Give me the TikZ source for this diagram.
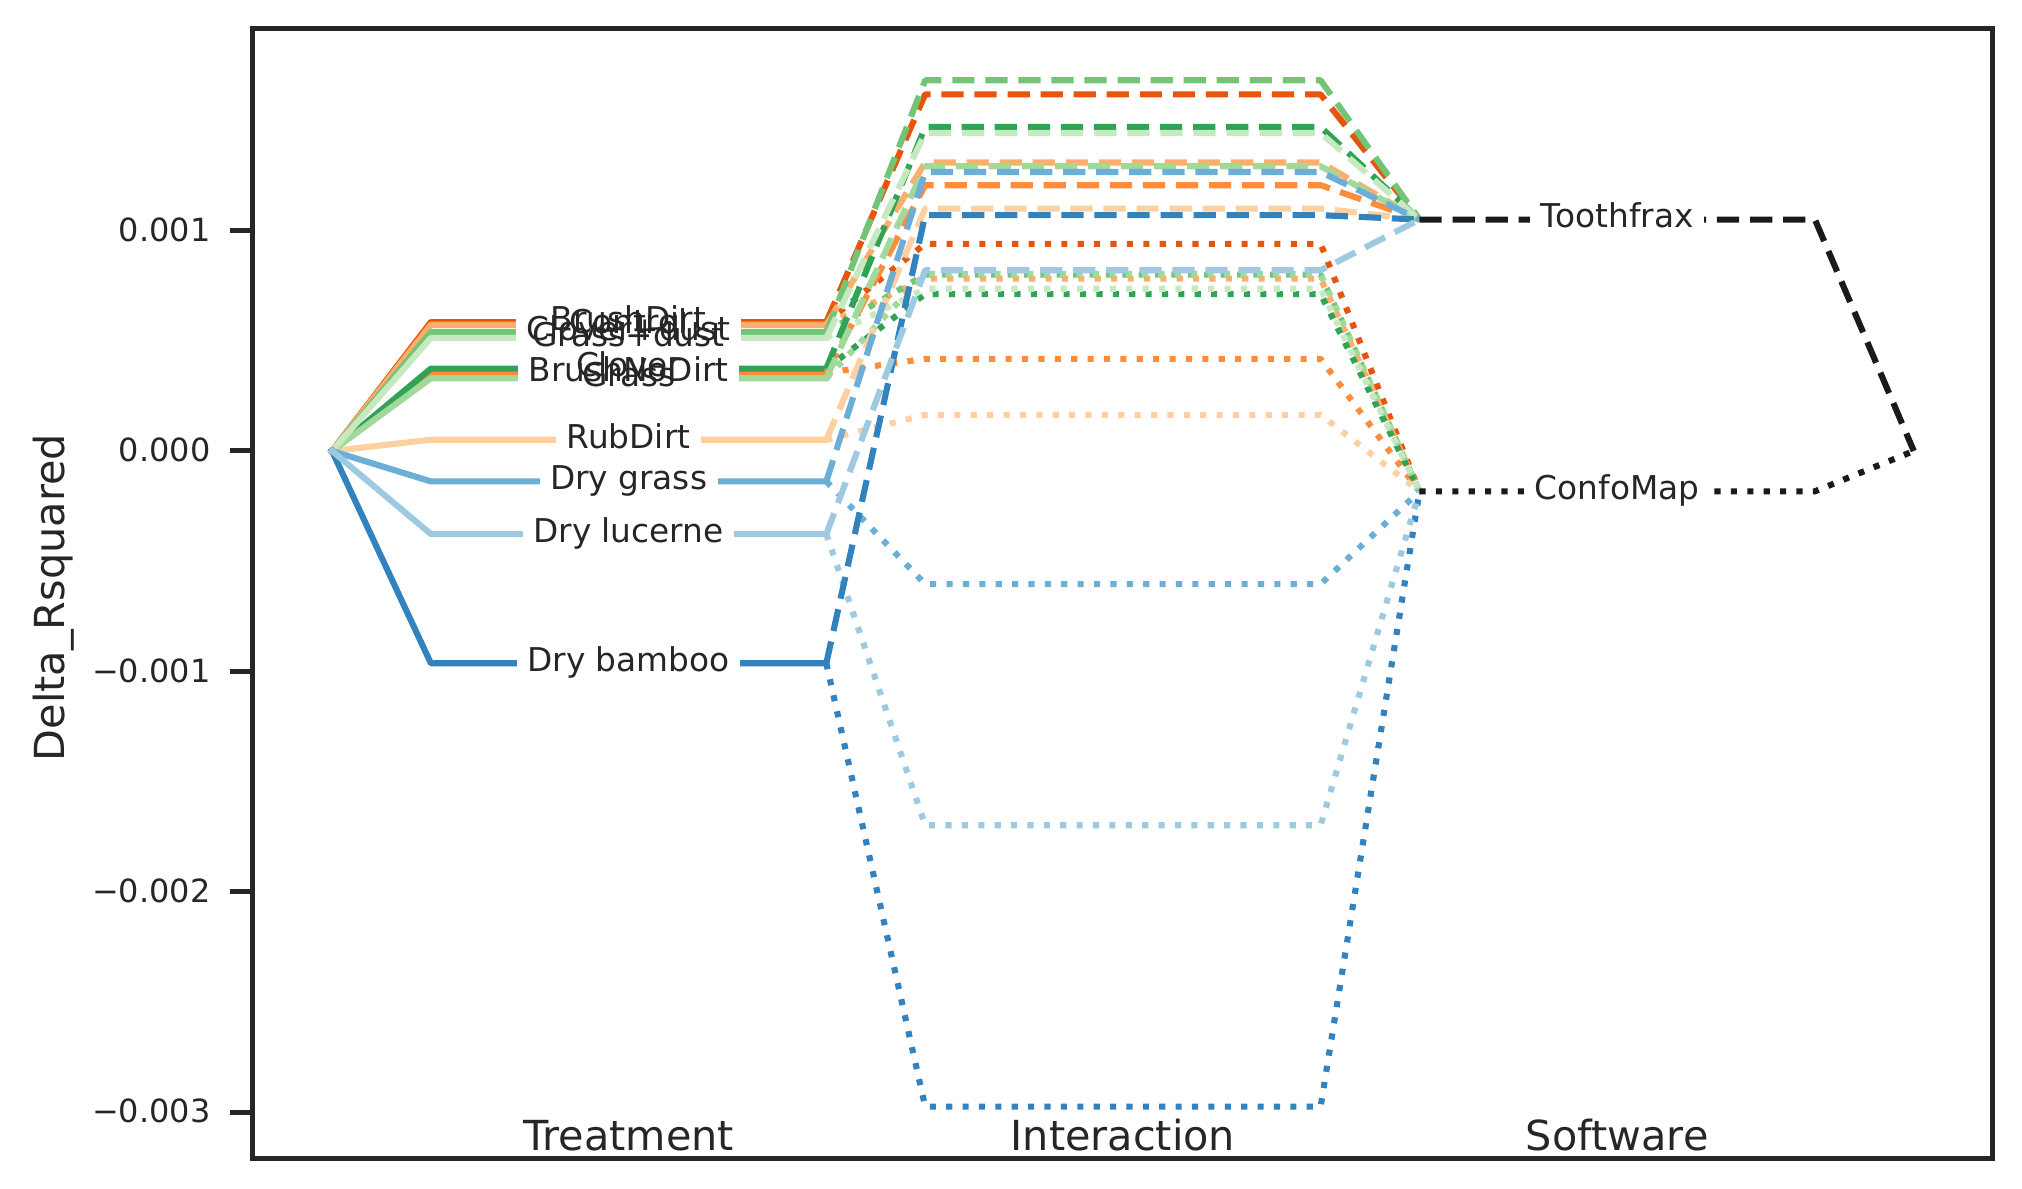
\documentclass[tikz,border=0pt]{standalone}
\usepackage{fontspec}
\setmainfont{DejaVu Sans}
\definecolor{tc}{HTML}{262626}
\definecolor{bA}{HTML}{3182BD}
\definecolor{bB}{HTML}{6BAED6}
\definecolor{bC}{HTML}{9ECAE1}
\definecolor{oA}{HTML}{E6550D}
\definecolor{oB}{HTML}{FD8D3C}
\definecolor{oC}{HTML}{FDAE6B}
\definecolor{oD}{HTML}{FDD0A2}
\definecolor{gA}{HTML}{31A354}
\definecolor{gB}{HTML}{74C476}
\definecolor{gC}{HTML}{A1D99B}
\definecolor{gD}{HTML}{C7E9C0}
\definecolor{kk}{HTML}{1A1A1A}
\tikzset{
  plotline/.style={line width=2.2pt, line join=round},
  solidline/.style={plotline, line cap=rect},
  dashline/.style={plotline, line cap=butt, dash pattern=on 8pt off 3.9pt},
  dotline/.style={plotline, line cap=butt, dash pattern=on 2.2pt off 3.7pt},
  spine/.style={line width=1.8pt, draw=tc},
  ticklab/.style={font=\fontsize{11.5}{13}\selectfont, text=tc, anchor=base east, inner sep=0pt},
  axlab/.style={font=\fontsize{14.9}{17}\selectfont, text=tc, inner sep=0pt, anchor=base},
  linelab/.style={font=\fontsize{11.8}{13}\selectfont, text=tc, anchor=base, inner sep=0pt, yshift=-3pt},
  halo/.style={linelab, fill=white, inner xsep=3.8pt, inner ysep=2.5pt},
}
\begin{document}
\begin{tikzpicture}
\useasboundingbox (0pt,0pt) rectangle (727.92pt,428.04pt);
\begin{scope}[shift={(119.52pt,265.68pt)}, x=177.95pt, y=79.34pt]
  % treatment (solid)
  \foreach \c/\t in {oA/0.585, oB/0.355, oC/0.573, oD/0.051,
                     gA/0.374, gB/0.540, gC/0.330, gD/0.513,
                     bA/-0.963, bB/-0.138, bC/-0.377} {
    \draw[solidline, draw=\c] (0,0) -- (0.2,\t) -- (1,\t);
  }
  % interaction, ConfoMap (dotted)
  \foreach \c/\t/\o in {oA/0.585/0.940, oB/0.355/0.418, oC/0.573/0.782, oD/0.051/0.164,
                        gA/0.374/0.712, gB/0.540/0.800, gC/0.330/0.803, gD/0.513/0.736,
                        bA/-0.963/-2.975, bB/-0.138/-0.604, bC/-0.377/-1.698} {
    \draw[dotline, draw=\c] (1,\t) -- (1.2,\o) -- (2,\o) -- (2.2,-0.183);
  }
  % interaction, Toothfrax (dashed)
  \foreach \c/\t/\d in {oA/0.585/1.618, oB/0.355/1.206, oC/0.573/1.309, oD/0.051/1.100,
                        gA/0.374/1.470, gB/0.540/1.682, gC/0.330/1.292, gD/0.513/1.443,
                        bA/-0.963/1.070, bB/-0.138/1.266, bC/-0.377/0.820} {
    \draw[dashline, draw=\c] (1,\t) -- (1.2,\d) -- (2,\d) -- (2.2,1.05);
  }
  % software
  \draw[dashline, draw=kk] (2.2,1.05) -- (3,1.05) -- (3.2,0);
  \draw[dotline, draw=kk] (2.2,-0.183) -- (3,-0.183) -- (3.2,0);

  % label halos
  \foreach \n/\x/\y [count=\i] in {BrushDirt/0.6/0.585, BrushNoDirt/0.6/0.355, Control/0.6/0.573,
      RubDirt/0.6/0.051, Clover/0.6/0.374, Clover+dust/0.6/0.540, Grass/0.6/0.330,
      Grass+dust/0.6/0.513, Dry bamboo/0.6/-0.963, Dry grass/0.6/-0.138,
      Dry lucerne/0.6/-0.377, Toothfrax/2.6/1.05, ConfoMap/2.6/-0.183} {
    \node[halo] (h\i) at (\x,\y) {\phantom{\n}};
  }
  % label texts
  \foreach \n/\x/\y [count=\i] in {BrushDirt/0.6/0.585, BrushNoDirt/0.6/0.355, Control/0.6/0.573,
      RubDirt/0.6/0.051, Clover/0.6/0.374, Clover+dust/0.6/0.540, Grass/0.6/0.330,
      Grass+dust/0.6/0.513, Dry bamboo/0.6/-0.963, Dry grass/0.6/-0.138,
      Dry lucerne/0.6/-0.377, Toothfrax/2.6/1.05, ConfoMap/2.6/-0.183} {
    \node[linelab] (l\i) at (\x,\y) {\n};
  }

  % axes frame
  \draw[spine, line join=miter] (-0.16,-3.212) rectangle (3.36,1.916);
  \foreach \v/\s [count=\i] in {1/0.001, 0/0.000, -1/−0.001, -2/−0.002, -3/−0.003} {
    \draw[spine] (-0.16,\v) -- ++(-8.3pt,0pt);
    \node[ticklab] (t\i) at ([xshift=-15.1pt, yshift=-3.9pt]-0.16,\v) {\s};
  }
  % axis texts
  \node[axlab] (xa) at (0.6,-3.176) {Treatment};
  \node[axlab] (xb) at (1.6,-3.176) {Interaction};
  \node[axlab] (xc) at (2.6,-3.176) {Software};
  \node[axlab, rotate=90] (ya) at (-0.542,-0.665) {Delta\_Rsquared};
\end{scope}
\end{tikzpicture}
\end{document}
